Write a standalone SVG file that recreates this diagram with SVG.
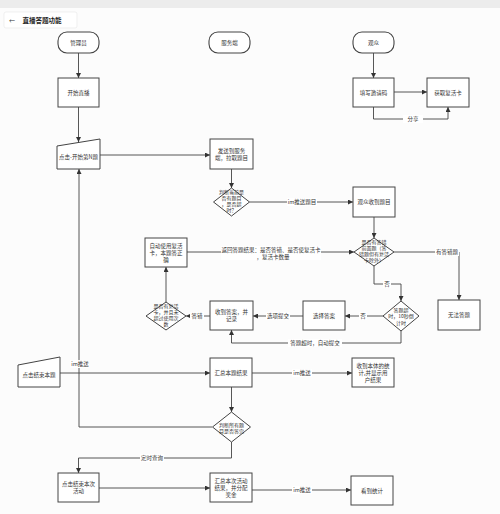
<svg xmlns="http://www.w3.org/2000/svg" width="500" height="514" viewBox="0 0 500 514">
<defs>
<marker id="ah" viewBox="0 0 8 8" refX="8" refY="4" markerWidth="5" markerHeight="5" markerUnits="userSpaceOnUse" orient="auto"><path d="M0,0 L8,4 L0,8 z" fill="#333"/></marker>
<style>
text{font-family:"Noto Sans CJK SC","Noto Sans",sans-serif;font-size:5.5px;fill:#333;text-anchor:middle;dominant-baseline:central}
.box{fill:#fff;stroke:#444;stroke-width:1}
.term{fill:#fff;stroke:#444;stroke-width:1.1}
.ln{fill:none;stroke:#444;stroke-width:0.9}
.arr{fill:none;stroke:#444;stroke-width:0.9;marker-end:url(#ah)}
.lb{fill:#fff}
</style>
</defs>
<rect x="0" y="0" width="500" height="514" fill="#fcfcfc"/>
<rect x="0" y="0" width="500" height="8" fill="#ececec"/>
<g id="header">
<rect x="4" y="12" width="73" height="16" rx="2" fill="#fff" stroke="#e6e6e6" stroke-width="0.6"/>
<text x="12" y="20" style="font-size:6px">←</text>
<text x="42" y="20" style="font-size:6.5px;font-weight:bold;fill:#222">直播答题功能</text>
</g>
<g id="connectors">
<path class="arr" d="M78.5,53 V78"/>
<path class="arr" d="M78.5,107 V142"/>
<path class="arr" d="M100,155 H210"/>
<path class="arr" d="M231.5,169 V188"/>
<path class="arr" d="M249.5,202 H353"/>
<path class="arr" d="M374,217 V238"/>
<path class="arr" d="M394,252 H459 V300"/>
<path class="arr" d="M374,266 V284 H401 V301"/>
<path class="arr" d="M383,316 H345"/>
<path class="arr" d="M303,316 H253"/>
<path class="arr" d="M210,316 H186"/>
<path class="arr" d="M166,302 V267"/>
<path class="arr" d="M187,252 H354"/>
<path class="arr" d="M401,331 V343 H231.5 V330"/>
<path class="arr" d="M212,427 H79 V169"/>
<path class="arr" d="M60,373 H210"/>
<path class="arr" d="M252,373 H352"/>
<path class="arr" d="M231.5,387 V412"/>
<path class="arr" d="M231.5,442 V458 H78.5 V473"/>
<path class="arr" d="M99,488 H210"/>
<path class="arr" d="M252,490 H351"/>
<path class="arr" d="M373.5,53 V78"/>
<path class="arr" d="M394,92 H427"/>
<path class="arr" d="M373.5,107 V119 H448 V107"/>
<rect class="lb" x="403" y="115" width="20" height="8"/><text x="413" y="119">分享</text>
<rect class="lb" x="287" y="198" width="30" height="8"/><text x="302" y="202">im推送题目</text>
<rect class="lb" x="435" y="248" width="24" height="8"/><text x="447" y="252">有答错题</text>
<rect class="lb" x="383" y="280" width="8" height="8"/><text x="387" y="284">否</text>
<rect class="lb" x="359" y="312" width="8" height="8"/><text x="363" y="316">否</text>
<rect class="lb" x="266" y="312" width="24" height="8"/><text x="278" y="316">选项提交</text>
<rect class="lb" x="190" y="312" width="14" height="8"/><text x="197" y="316">答错</text>
<rect class="lb" x="221" y="246" width="100" height="14"/>
<text x="271" y="250">返回答题结果：是否答错、是否使复活卡</text>
<text x="273" y="256.5">，复活卡数量</text>
<rect class="lb" x="288" y="339" width="54" height="8"/><text x="315" y="343">答题超时，自动提交</text>
<rect class="lb" x="70" y="360" width="19" height="8"/><text x="80" y="364">im推送</text>
<rect class="lb" x="292" y="369" width="20" height="8"/><text x="302" y="373">im推送</text>
<rect class="lb" x="140" y="454" width="24" height="8"/><text x="152" y="458">定时查询</text>
<rect class="lb" x="292" y="486" width="20" height="8"/><text x="302" y="490">im推送</text>
</g>
<g id="lane-admin"><rect class="term" x="58" y="32" width="41" height="21" rx="9"/><text x="78.5" y="42.5">管理员</text></g>
<g id="lane-server"><rect class="term" x="209" y="32" width="41" height="21" rx="9"/><text x="229.5" y="42.5">服务端</text></g>
<g id="lane-viewer"><rect class="term" x="353" y="32" width="41" height="21" rx="9"/><text x="373.5" y="42.5">观众</text></g>
<g id="start-live"><rect class="box" x="58" y="78" width="41" height="29"/><text x="78.5" y="92.5">开始直播</text></g>
<g id="invite"><rect class="box" x="353" y="78" width="41" height="29"/><text x="373.5" y="92.5">填写邀请码</text></g>
<g id="get-card"><rect class="box" x="427" y="78" width="42" height="29"/><text x="448" y="92.5">获取复活卡</text></g>
<g id="start-q"><path class="box" d="M57,146 L100,139 L100,169 L57,169 z"/><text x="78.5" y="157">点击-开始第N题</text></g>
<g id="send-server"><rect class="box" x="210" y="139" width="43" height="30"/><text x="231.5" y="150.5">发送到服务</text><text x="231.5" y="157.5">端，拉取题目</text></g>
<g id="check-q"><path class="box" d="M231.5,188 L249.5,202 L231.5,216 L213.5,202 z"/><text x="231.5" y="191.5" style="font-size:5px">判断当前是</text><text x="231.5" y="197.5" style="font-size:5px">否有题目</text><text x="231.5" y="203.5" style="font-size:5px">，是否超</text><text x="231.5" y="209.5" style="font-size:5px">时？</text></g>
<g id="recv-q"><rect class="box" x="353" y="187" width="42" height="30"/><text x="374" y="202">观众收到题目</text></g>
<g id="check-wrong"><path class="box" d="M374,238 L394,252 L374,266 L354,252 z"/><text x="374" y="241.5" style="font-size:5px">是否有答错</text><text x="374" y="247.5" style="font-size:5px">前面题（答</text><text x="374" y="253.5" style="font-size:5px">错题但有复活</text><text x="374" y="259.5" style="font-size:5px">卡除外）</text></g>
<g id="no-answer"><rect class="box" x="438" y="300" width="42" height="30"/><text x="459" y="315">无法答题</text></g>
<g id="check-timeout"><path class="box" d="M401,301 L419,316 L401,331 L383,316 z"/><text x="401" y="309" style="font-size:5px">答题超</text><text x="401" y="315.5" style="font-size:5px">时，10秒倒</text><text x="401" y="322" style="font-size:5px">计时</text></g>
<g id="choose"><rect class="box" x="303" y="301" width="42" height="29"/><text x="324" y="315.5">选择答案</text></g>
<g id="record"><rect class="box" x="210" y="301" width="43" height="29"/><text x="231.5" y="312">收到答案，并</text><text x="231.5" y="319">记录</text></g>
<g id="check-card"><path class="box" d="M166,302 L186,316 L166,330 L146,316 z"/><text x="166" y="305.5" style="font-size:5px">是否有复活</text><text x="166" y="311.5" style="font-size:5px">卡，并且未</text><text x="166" y="317.5" style="font-size:5px">超过使用次</text><text x="166" y="323.5" style="font-size:5px">数</text></g>
<g id="auto-card"><rect class="box" x="145" y="238" width="42" height="29"/><text x="166" y="245.5">自动使用复活</text><text x="166" y="252.5">卡，本题答正</text><text x="166" y="259.5">确</text></g>
<g id="end-q"><path class="box" d="M18,365 L60,357 L60,387 L18,387 z"/><text x="39" y="375">点击结束本题</text></g>
<g id="sum-q"><rect class="box" x="210" y="358" width="42" height="29"/><text x="231" y="372.5">汇总本题结果</text></g>
<g id="show-q"><rect class="box" x="352" y="358" width="42" height="29"/><text x="373" y="365.5">收到本体的统</text><text x="373" y="372.5">计,并显示用</text><text x="373" y="379.5">户结果</text></g>
<g id="check-all"><path class="box" d="M231.5,412 L250.5,427 L231.5,442 L212.5,427 z"/><text x="231.5" y="424" style="font-size:5px">判断所有题</text><text x="231.5" y="430" style="font-size:5px">目是否答完</text></g>
<g id="end-act"><rect class="box" x="58" y="473" width="41" height="29"/><text x="78.5" y="484">点击结束本次</text><text x="78.5" y="491">活动</text></g>
<g id="sum-act"><rect class="box" x="210" y="473" width="42" height="29"/><text x="231" y="480.5">汇总本次活动</text><text x="231" y="487.5">结果，并分配</text><text x="231" y="494.5">奖金</text></g>
<g id="see-stat"><rect class="box" x="351" y="476" width="42" height="29"/><text x="372" y="490.5">看到统计</text></g>
</svg>
